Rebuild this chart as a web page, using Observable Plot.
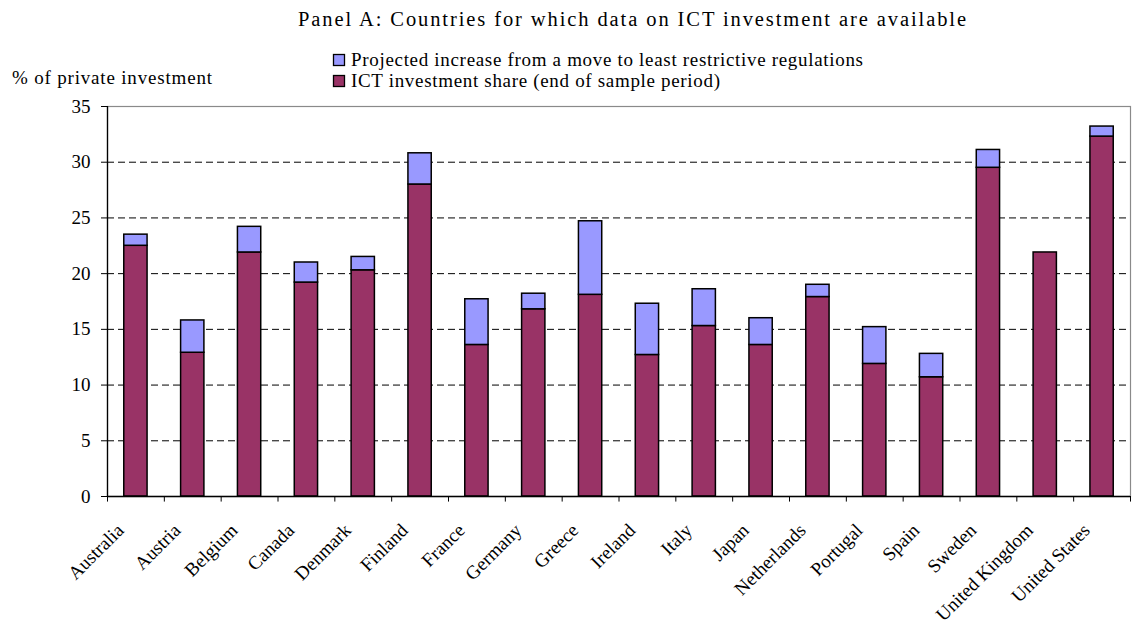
<!DOCTYPE html>
<html><head><meta charset="utf-8">
<script src="https://cdn.jsdelivr.net/npm/d3@7"></script>
<script src="https://cdn.jsdelivr.net/npm/@observablehq/plot@0.6"></script>
<style>
body{margin:0;background:#fff;}
#wrap{width:1139px;height:624px;overflow:hidden;font-family:"Liberation Serif","Times New Roman",serif;background:#fff;}
#wrap svg{display:block;}
</style></head><body><div id="wrap"></div>
<script>
const titleText = "Panel A: Countries for which data on ICT investment are available";
const yLabel = "% of private investment";
const seriesNames = ["ICT investment share (end of sample period)", "Projected increase from a move to least restrictive regulations"];
const seriesColors = ["#993366", "#9999FF"];
const countries = ["Australia","Austria","Belgium","Canada","Denmark","Finland","France","Germany","Greece","Ireland","Italy","Japan","Netherlands","Portugal","Spain","Sweden","United Kingdom","United States"];
const ictShare = [22.5,12.9,21.9,19.2,20.3,28.0,13.6,16.8,18.1,12.7,15.3,13.6,17.9,11.9,10.7,29.5,21.9,32.3];
const projectedIncrease = [1.0,2.9,2.3,1.8,1.2,2.8,4.1,1.4,6.6,4.6,3.3,2.4,1.1,3.3,2.1,1.6,0,0.9];
const yTicks = [0,5,10,15,20,25,30,35];
const gridTicks = [5,10,15,20,25,30];

const W = 1139, headerH = 96, plotH = 528;
const mL = 107, mR = 9, mT = 10, mB = 128;
const step = (W - mL - mR) / countries.length;

const wrap = document.getElementById("wrap");

// Header: title, y label, legend
const header = d3.create("svg").attr("width", W).attr("height", headerH)
  .attr("font-family", '"Liberation Serif","Times New Roman",serif');
header.append("text").attr("x", 298).attr("y", 26).attr("font-size", 20.5)
  .attr("textLength", 668).attr("lengthAdjust", "spacing").text(titleText);
header.append("text").attr("x", 12).attr("y", 84).attr("font-size", 19)
  .attr("textLength", 200).attr("lengthAdjust", "spacing").text(yLabel);
const legendRows = [
  {name: seriesNames[1], color: seriesColors[1], y: 66, len: 512},
  {name: seriesNames[0], color: seriesColors[0], y: 87, len: 369}
];
legendRows.forEach(r => {
  header.append("rect").attr("x", 333.5).attr("y", r.y - 11.5).attr("width", 11).attr("height", 11)
    .attr("fill", r.color).attr("stroke", "#000").attr("stroke-width", 1.3);
  header.append("text").attr("x", 351).attr("y", r.y).attr("font-size", 19)
    .attr("textLength", r.len).attr("lengthAdjust", "spacing").text(r.name);
});
wrap.appendChild(header.node());

const data = [];
countries.forEach((c, i) => {
  data.push({country: c, series: seriesNames[0], value: ictShare[i]});
  data.push({country: c, series: seriesNames[1], value: projectedIncrease[i]});
});

const chart = Plot.plot({
  width: W, height: plotH,
  marginLeft: mL, marginRight: mR, marginTop: mT, marginBottom: mB,
  style: {fontFamily: '"Liberation Serif","Times New Roman",serif', fontSize: "19px", background: "white", color: "black", overflow: "visible"},
  x: {domain: countries, paddingInner: 0.59, paddingOuter: 0.295, round: false, axis: null},
  y: {domain: [0, 35]},
  color: {domain: seriesNames, range: seriesColors},
  marks: [
    Plot.frame({stroke: "#8a8a8a", strokeWidth: 1.2}),
    Plot.ruleY(gridTicks, {stroke: "#000", strokeWidth: 1, strokeDasharray: "7,4"}),
    Plot.barY(data, {x: "country", y: "value", fill: "series", stroke: "#000", strokeWidth: 1.5}),
    Plot.ruleX([countries[0]], {x: d => d, y1: 0, y2: 35, dx: -step / 2, stroke: "#000", strokeWidth: 1.3}),
    Plot.ruleY([0], {stroke: "#000", strokeWidth: 1.3}),
    Plot.ruleX(countries, {x: d => d, y1: 0, y2: -0.5, dx: -step / 2, stroke: "#000"}),
    Plot.ruleX([countries[countries.length - 1]], {x: d => d, y1: 0, y2: -0.5, dx: step / 2, stroke: "#000"}),
    Plot.axisY({ticks: yTicks, tickSize: 6, tickPadding: 11, fontSize: 19, label: null, tickFormat: d => d}),
    Plot.text(countries, {x: d => d, text: d => d, frameAnchor: "bottom", rotate: -45, textAnchor: "end", lineAnchor: "bottom", dx: -11, dy: 35, fontSize: 19})
  ]
});
wrap.appendChild(chart);
</script>
</body></html>
